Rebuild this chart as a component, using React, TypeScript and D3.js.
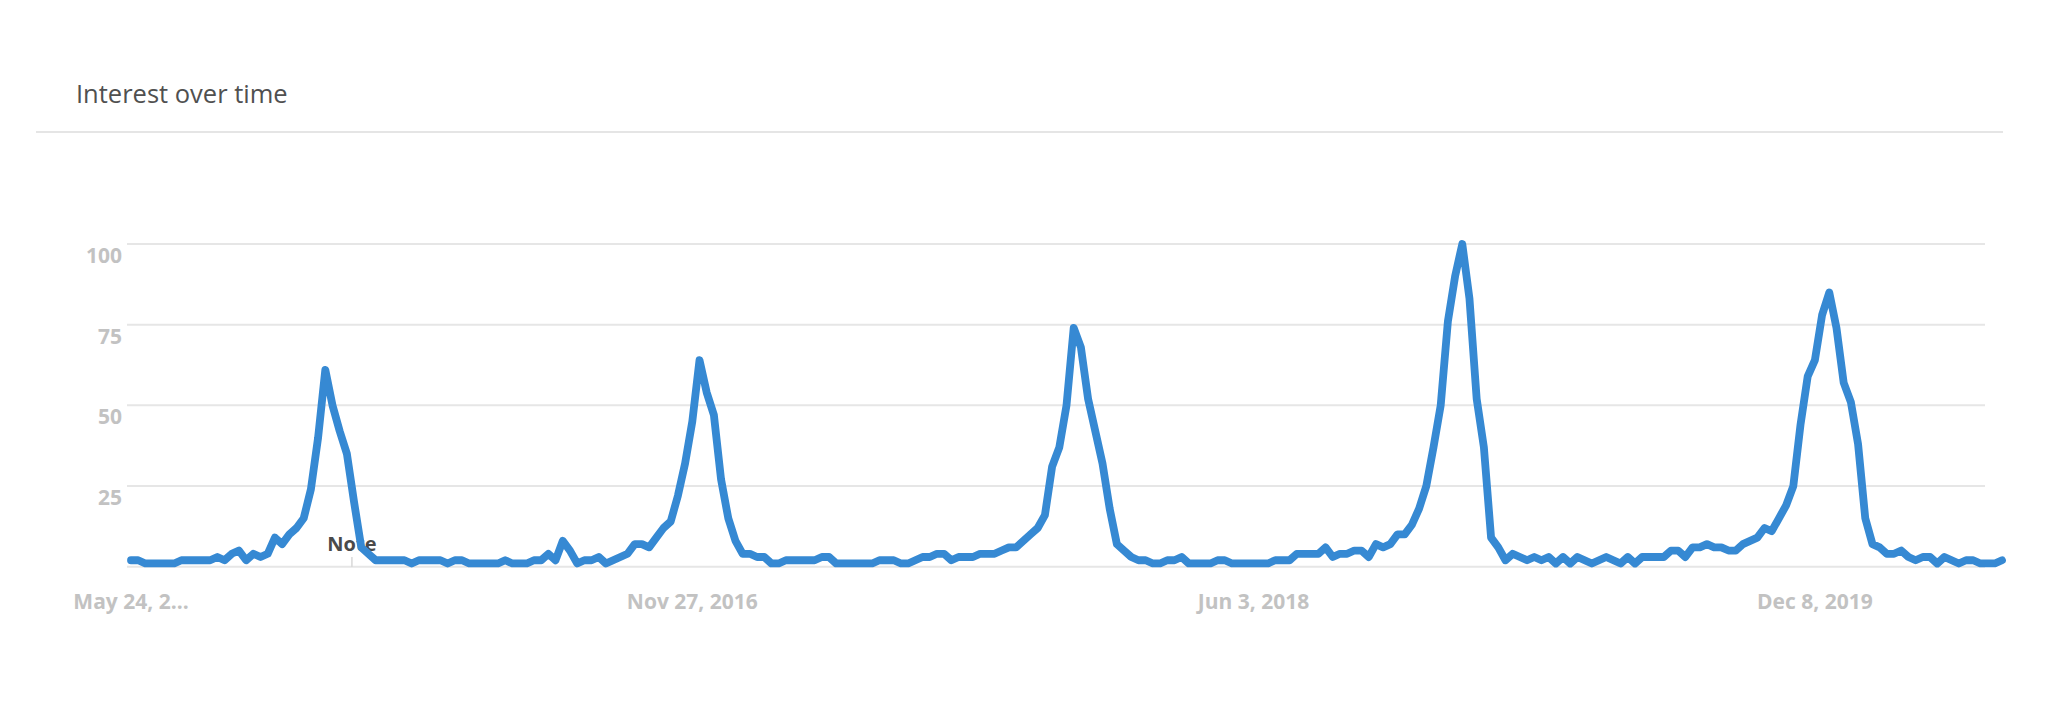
import React from "react";
import * as d3 from "d3";

const title = "Interest over time";

// weekly interest values (0-100)
const values: number[] = [
  2, 2, 1, 1, 1, 1, 1, 2, 2, 2,
  2, 2, 3, 2, 4, 5, 2, 4, 3, 4,
  9, 7, 10, 12, 15, 24, 40, 61, 50, 42,
  35, 20, 6, 4, 2, 2, 2, 2, 2, 1,
  2, 2, 2, 2, 1, 2, 2, 1, 1, 1,
  1, 1, 2, 1, 1, 1, 2, 2, 4, 2,
  8, 5, 1, 2, 2, 3, 1, 2, 3, 4,
  7, 7, 6, 9, 12, 14, 22, 32, 45, 64,
  54, 47, 27, 15, 8, 4, 4, 3, 3, 1,
  1, 2, 2, 2, 2, 2, 3, 3, 1, 1,
  1, 1, 1, 1, 2, 2, 2, 1, 1, 2,
  3, 3, 4, 4, 2, 3, 3, 3, 4, 4,
  4, 5, 6, 6, 8, 10, 12, 16, 31, 37,
  50, 74, 68, 52, 42, 32, 18, 7, 5, 3,
  2, 2, 1, 1, 2, 2, 3, 1, 1, 1,
  1, 2, 2, 1, 1, 1, 1, 1, 1, 2,
  2, 2, 4, 4, 4, 4, 6, 3, 4, 4,
  5, 5, 3, 7, 6, 7, 10, 10, 13, 18,
  25, 37, 50, 76, 90, 100, 83, 52, 37, 9,
  6, 2, 4, 3, 2, 3, 2, 3, 1, 3,
  1, 3, 2, 1, 2, 3, 2, 1, 3, 1,
  3, 3, 3, 3, 5, 5, 3, 6, 6, 7,
  6, 6, 5, 5, 7, 8, 9, 12, 11, 15,
  19, 25, 44, 59, 64, 78, 85, 74, 57, 51,
  38, 15, 7, 6, 4, 4, 5, 3, 2, 3,
  3, 1, 3, 2, 1, 2, 2, 1, 1, 1,
  2,
];

const xTickIndex: number[] = [0, 78, 156, 234];
const xTickLabels: string[] = ["May 24, 2...", "Nov 27, 2016", "Jun 3, 2018", "Dec 8, 2019"];

const yTicks: number[] = [0, 25, 50, 75, 100];
const yTickLabels: string[] = ["", "25", "50", "75", "100"];

const noteIndex = 30.7;
const noteLabel = "Note";

export default function App() {
  const W = 2070;
  const H = 707;

  const x = d3.scaleLinear().domain([0, values.length - 1]).range([131, 2002]);
  const y = d3.scaleLinear().domain([0, 100]).range([566.7, 244]);

  const lineGen = d3
    .line<number>()
    .x((_, i) => x(i))
    .y((d) => y(d))
    .curve(d3.curveLinear);

  const gridX0 = 127;
  const gridX1 = 1985;
  const labelFont = "'Open Sans', 'Noto Sans', sans-serif";

  return (
    <svg
      width={W}
      height={H}
      style={{ position: "absolute", left: 0, top: 0, background: "#fff" }}
    >
      <rect x={0} y={0} width={W} height={H} fill="#ffffff" />
      <text
        x={76}
        y={103}
        fontFamily={labelFont}
        fontSize={25.5}
        fill="#505050"
      >
        {title}
      </text>
      <line x1={36} x2={2003} y1={132} y2={132} stroke="#e5e5e5" strokeWidth={2} />

      {yTicks.map((t, k) => (
        <g key={"y" + t}>
          <line
            x1={gridX0}
            x2={gridX1}
            y1={y(t)}
            y2={y(t)}
            stroke="#e6e6e6"
            strokeWidth={2}
          />
          {yTickLabels[k] !== "" && (
            <text
              x={122}
              y={y(t) + 19}
              textAnchor="end"
              fontFamily={labelFont}
              fontWeight={700}
              fontSize={21}
              fill="#c2c2c2"
            >
              {yTickLabels[k]}
            </text>
          )}
        </g>
      ))}

      {xTickIndex.map((idx, k) => (
        <text
          key={"x" + idx}
          x={x(idx)}
          y={609}
          textAnchor="middle"
          fontFamily={labelFont}
          fontWeight={700}
          fontSize={21}
          fill="#c2c2c2"
        >
          {xTickLabels[k]}
        </text>
      ))}

      <line
        x1={x(noteIndex)}
        x2={x(noteIndex)}
        y1={557}
        y2={567}
        stroke="#d8d8d8"
        strokeWidth={1.5}
      />
      <text
        x={x(noteIndex)}
        y={551}
        textAnchor="middle"
        fontFamily={labelFont}
        fontWeight={700}
        fontSize={20}
        fill="#4a4a4a"
      >
        {noteLabel}
      </text>

      <path
        d={lineGen(values) || ""}
        fill="none"
        stroke="#3689d3"
        strokeWidth={7.8}
        strokeLinejoin="round"
        strokeLinecap="round"
      />
    </svg>
  );
}
